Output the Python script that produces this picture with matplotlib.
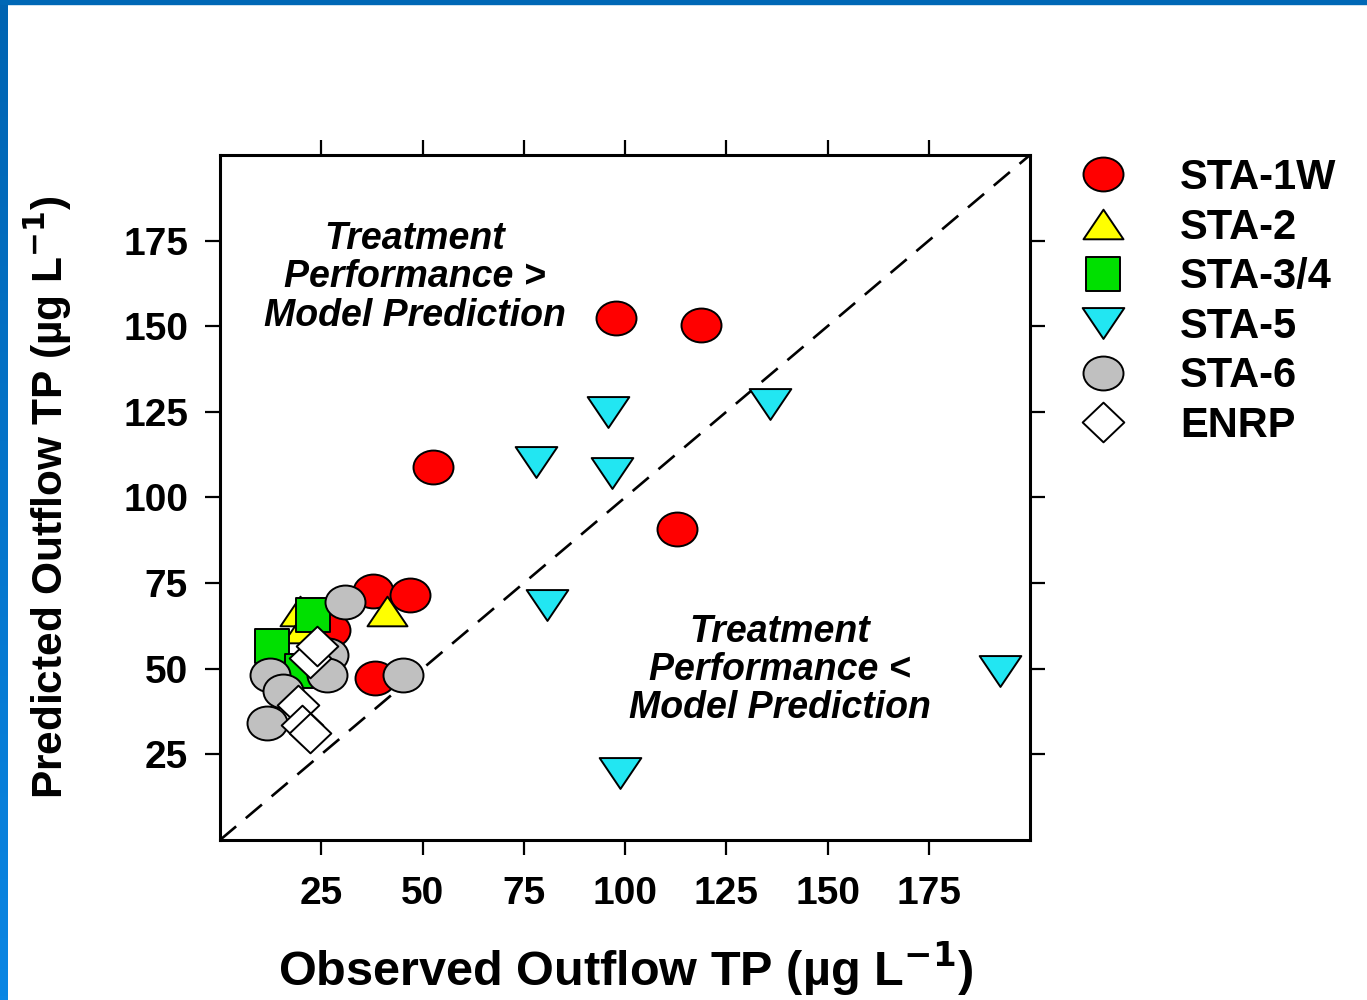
import numpy as np
import matplotlib
matplotlib.use('Agg')
import matplotlib.pyplot as plt
from matplotlib.markers import MarkerStyle
from matplotlib.path import Path
from matplotlib.patches import Rectangle

plt.rcParams['font.family'] = ['Liberation Sans', 'DejaVu Sans']
plt.rcParams['font.weight'] = 'bold'
plt.rcParams['axes.labelweight'] = 'bold'
plt.rcParams['mathtext.default'] = 'bf'

# observed (x) / predicted (y) outflow TP, ug/L
sta1w_x = [97.8, 118.8, 52.6, 112.8, 37.8, 46.9, 38.3, 27.2]
sta1w_y = [152.4, 150.3, 109.0, 90.9, 72.8, 71.4, 47.2, 61.2]
sta2_x = [19.75, 20.5, 41.2]
sta2_y = [67.0, 61.8, 67.0]
sta34_x = [23.0, 12.8, 20.2]
sta34_y = [65.6, 56.5, 49.2]
sta5_x = [95.8, 135.8, 78.0, 96.8, 80.7, 192.6, 98.8]
sta5_y = [125.0, 127.3, 110.4, 107.2, 68.5, 49.2, 19.5]
sta6_x = [30.9, 45.2, 26.7, 26.4, 12.3, 15.6, 11.6]
sta6_y = [69.6, 48.1, 53.9, 48.1, 48.1, 43.4, 34.1]
enrp_x = [22.2, 23.9, 19.3, 20.2, 22.2]
enrp_y = [53.0, 56.5, 39.3, 33.5, 31.2]

labels = ['STA-1W', 'STA-2', 'STA-3/4', 'STA-5', 'STA-6', 'ENRP']
ticks = [25, 50, 75, 100, 125, 150, 175]


def stretched(m, sx):
    '''marker path widened in x (the original picture is stretched)'''
    ms = MarkerStyle(m)
    p = ms.get_path().transformed(ms.get_transform())
    return Path(p.vertices * [sx, 1.0], p.codes)


series = [
    (sta1w_x, sta1w_y, stretched('o', 1.18), '#ff0000', 28.8),
    (sta2_x, sta2_y, stretched('^', 1.35), '#ffff00', 28.8),
    (sta34_x, sta34_y, stretched('s', 1.0), '#00e000', 23.8),
    (sta5_x, sta5_y, stretched('v', 1.35), '#22e6f2', 30.0),
    (sta6_x, sta6_y, stretched('o', 1.18), '#c0c0c0', 28.8),
    (enrp_x, enrp_y, stretched('D', 1.05), '#ffffff', 30.0),
]

fig = plt.figure(figsize=(13.67, 10), dpi=100)

# blue slide frame
band = fig.add_axes([0, 0, 8 / 1367, 1])
grad = np.linspace(0, 1, 256).reshape(-1, 1)
band.imshow(grad, aspect='auto', extent=[0, 1, 0, 1], origin='lower',
            cmap=matplotlib.colors.LinearSegmentedColormap.from_list('b', ['#0a86e4', '#0064b2']))
band.axis('off')
fig.patches.append(Rectangle((0, 1 - 4 / 1000), 1, 4 / 1000, transform=fig.transFigure,
                             color='#0068b6', zorder=5))

ax = fig.add_axes([220 / 1367, 0.160, 810 / 1367, 0.685])
ax.plot([0, 200], [0, 200], color='k', lw=1.9, dashes=(8, 4.8), zorder=1)

for (x, y, mk, c, ms), lab in zip(series, labels):
    ax.plot(x, y, ls='none', marker=mk, ms=ms, mfc=c, mec='k', mew=1.4, label=lab, zorder=3)

ax.set_xlim(0, 200)
ax.set_ylim(0, 200)
ax.set_xticks(ticks)
ax.set_yticks(ticks)
for s in ax.spines.values():
    s.set_linewidth(2.2)
ax.tick_params(direction='out', length=11, width=1.6, top=True, right=True,
               labelsize=28)
ax.tick_params(axis='x', pad=15)
ax.tick_params(axis='y', pad=12)

ax.set_xlabel('Observed Outflow TP (µg L$^{-1}$)', fontsize=35, va='top')
ax.set_ylabel('Predicted Outflow TP (µg L$^{-1}$)', fontsize=30.5)
ax.xaxis.set_label_coords(0.5, -0.146)
ax.yaxis.set_label_coords(-0.18, 0.5)

ax.text(48.1, 164.3, 'Treatment\nPerformance >\nModel Prediction', fontsize=27,
        style='italic', ha='center', va='center', linespacing=1.08)
ax.text(138.3, 49.6, 'Treatment\nPerformance <\nModel Prediction', fontsize=27,
        style='italic', ha='center', va='center', linespacing=1.08)

ax.legend(loc='upper left', bbox_to_anchor=(1079 / 1367, 0.842), bbox_transform=fig.transFigure,
          frameon=False, fontsize=30, borderpad=0, borderaxespad=0, labelspacing=0.23,
          handlelength=1.15, handletextpad=1.27, numpoints=1)

fig.savefig('out.png', dpi=100, facecolor='white')
